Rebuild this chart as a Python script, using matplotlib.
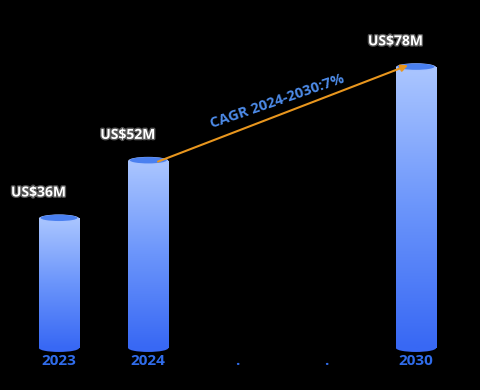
import numpy as np
import matplotlib
matplotlib.use('Agg')
import matplotlib.pyplot as plt
from matplotlib.patches import Ellipse, Rectangle
from matplotlib.colors import LinearSegmentedColormap
import matplotlib.patheffects as pe

years = ['2023', '2024', '.', '.', '2030']
values = [36, 52, None, None, 78]
value_labels = ['US$36M', 'US$52M', '', '', 'US$78M']
cagr_text = 'CAGR 2024-2030:7%'

plt.rcParams['font.family'] = ['Open Sans', 'DejaVu Sans']

fig = plt.figure(figsize=(4.8, 3.9), dpi=100, facecolor='black')
ax = fig.add_axes([0, 42 / 390, 1, 348 / 390])
ax.set_facecolor('black')

cmap = LinearSegmentedColormap.from_list('bar', ['#3868f4', '#6b95fb', '#abc6ff'])
grad = np.linspace(0, 1, 256).reshape(-1, 1)
w = 0.45
eh = 2.2

for i, v in enumerate(values):
    if v is None:
        continue
    # bottom cap
    ax.add_patch(Ellipse((i, 0), w, eh, facecolor='#3868f4', edgecolor='none',
                         zorder=1, clip_on=False))
    rect = Rectangle((i - w / 2, 0), w, v, facecolor='none', edgecolor='none')
    ax.add_patch(rect)
    im = ax.imshow(grad, cmap=cmap, origin='lower', aspect='auto',
                   extent=(i - w / 2, i + w / 2, 0, v), zorder=2)
    im.set_clip_path(rect)
    # top cap
    ax.add_patch(Ellipse((i, v), w, eh, facecolor='#a6c2ff', edgecolor='none', zorder=3))
    ax.add_patch(Ellipse((i, v + 0.15), w * 0.92, eh * 0.8, facecolor='#4a80f0', edgecolor='none', zorder=4))
    ax.text(i - 0.23, v + 7.2, value_labels[i], color='white', fontsize=10, fontweight='bold',
            ha='center', va='center', zorder=5,
            path_effects=[pe.withStroke(linewidth=2, foreground='#555555')])

ax.set_xlim(-0.661, 4.717)
ax.set_ylim(0, 96.67)

# CAGR arrow
ax.annotate('', xy=(4.0 - 0.06, values[4] + 0.8), xytext=(1.08, values[1] - 0.5),
            arrowprops=dict(arrowstyle='-|>', color='#e8961e', lw=1.5, mutation_scale=10),
            zorder=6)
ax.text(2.45, 68.5, cagr_text, color='#4d8be8', fontsize=10.5, fontweight='bold',
        rotation=19, ha='center', va='center', zorder=6)

ax.set_xticks(range(len(years)))
ax.set_xticklabels(years, color='#306cea', fontsize=11, fontweight='bold')
ax.tick_params(axis='x', length=0, pad=4.5)
ax.set_yticks([])
for s in ax.spines.values():
    s.set_visible(False)

fig.savefig('out.png', dpi=100, facecolor='black')
